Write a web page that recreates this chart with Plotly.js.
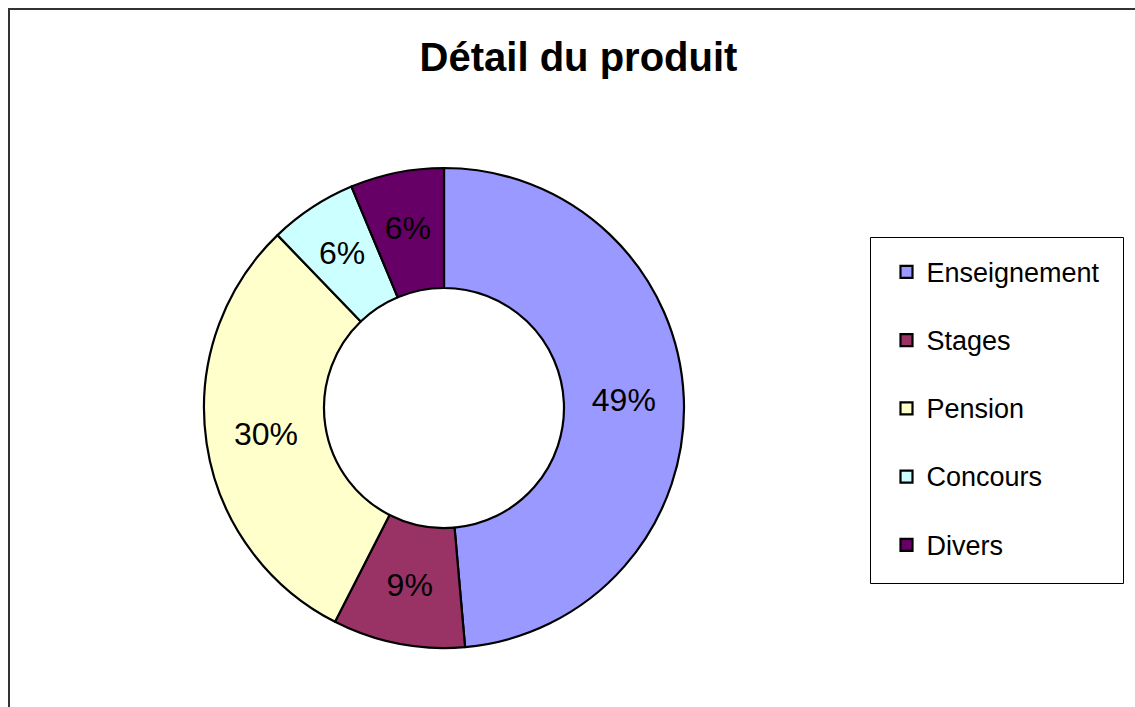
<!DOCTYPE html>
<html>
<head>
<meta charset="utf-8">
<script src="https://cdn.plot.ly/plotly-3.0.1.min.js"></script>
<style>
  html, body { margin: 0; padding: 0; background: #ffffff; }
  #chart { width: 1135px; height: 707px; }
</style>
</head>
<body>
<div id="chart"></div>
<script>
// Data
const categories = ["Enseignement", "Stages", "Pension", "Concours", "Divers"];
const values = [48.6, 8.9, 30.3, 5.9, 6.3];
const colors = ["#9999FF", "#993366", "#FFFFCC", "#CCFFFF", "#660066"];
const chartTitle = "Détail du produit";

const W = 1135, H = 707;
const CX = 444, CY = 408, R = 240;     // donut centre / outer radius (px)
const FONT = "Liberation Sans, Arial, sans-serif";

// legend labels: larger visible text plus a blank line for the wide Excel row spacing
const legendLabels = categories.map(c => '<span style="font-size:27px">' + c + '</span><br>\u00a0');

function domainFor(r) {
  return { x: [(CX - r) / W, (CX + r) / W], y: [1 - (CY + r) / H, 1 - (CY - r) / H] };
}

// visible donut (no text)
const ring = {
  type: "pie",
  labels: legendLabels,
  values: values,
  sort: false,
  direction: "clockwise",
  rotation: 0,
  hole: 0.5,
  marker: { colors: colors, line: { color: "#000000", width: 2.2 } },
  textinfo: "none",
  domain: domainFor(R),
  showlegend: true
};

// transparent overlay that carries the percentage labels near the ring's mid radius
const RT = 220;
const labelsTrace = {
  type: "pie",
  labels: categories,
  values: values,
  sort: false,
  direction: "clockwise",
  rotation: 0,
  hole: 1 - 2 * (RT - 180) / RT,
  marker: { colors: categories.map(() => "rgba(0,0,0,0)"), line: { width: 0 } },
  texttemplate: "%{percent:.0%}",
  textposition: "inside",
  insidetextorientation: "horizontal",
  textfont: { family: FONT, size: 32, color: "#000000" },
  domain: domainFor(RT),
  showlegend: false
};

const layout = {
  width: W,
  height: H,
  margin: { l: 0, r: 0, t: 0, b: 0, pad: 0 },
  paper_bgcolor: "#ffffff",
  plot_bgcolor: "#ffffff",
  uniformtext: { mode: "show", minsize: 32 },
  title: {
    text: chartTitle,
    font: { family: FONT, size: 40, color: "#000000", weight: "bold" },
    x: 578.5 / W,
    xanchor: "center",
    xref: "paper",
    y: 1 - 57 / H,
    yanchor: "middle",
    yref: "container"
  },
  showlegend: true,
  legend: {
    x: 874.5 / W,
    xanchor: "left",
    y: 1 - 249 / H,
    yanchor: "top",
    bgcolor: "rgba(0,0,0,0)",
    borderwidth: 0,
    valign: "top",
    indentation: 12,
    font: { family: FONT, size: 25.1, color: "#000000" }
  },
  shapes: [
    { // outer chart frame
      type: "rect", xref: "paper", yref: "paper",
      x0: 9 / W, x1: 1.02, y0: -0.02, y1: 1 - 9 / H,
      line: { color: "#333333", width: 2 },
      fillcolor: "rgba(0,0,0,0)", layer: "below"
    },
    { // legend frame
      type: "rect", xref: "paper", yref: "paper",
      x0: 870.5 / W, x1: 1123.5 / W, y0: 1 - 583.5 / H, y1: 1 - 237.5 / H,
      line: { color: "#000000", width: 1 },
      fillcolor: "#ffffff", layer: "below"
    }
  ]
};

Plotly.newPlot("chart", [ring, labelsTrace], layout, { displayModeBar: false, staticPlot: true });
</script>
</body>
</html>
